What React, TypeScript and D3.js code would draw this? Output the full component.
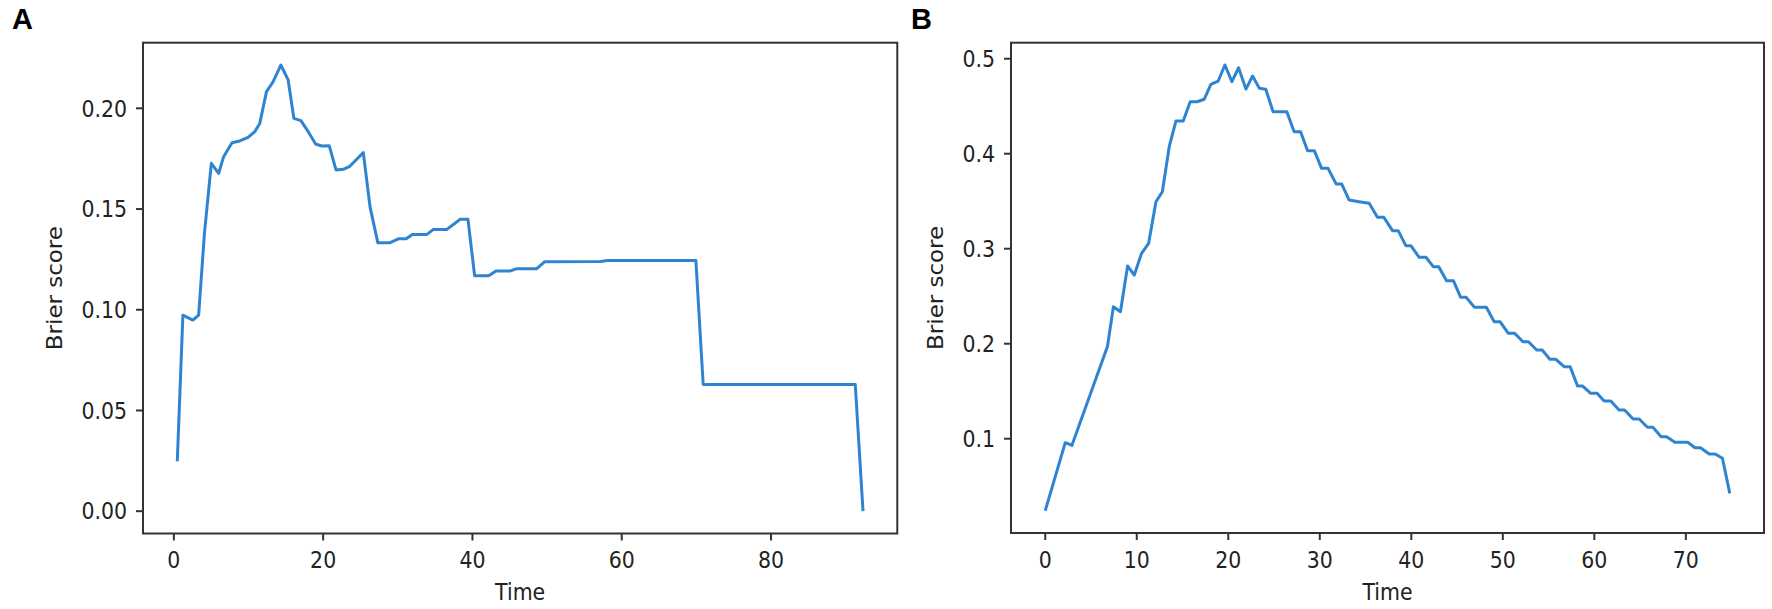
import React from "react";
import * as d3 from "d3";

// Panel A: time vs Brier score
const timeA = [0.46, 1.21, 2.55, 3.32, 4.1, 5.02, 6.0, 6.67, 7.79, 8.82, 9.94, 10.84, 11.51, 12.41, 13.3, 14.33, 15.31, 16.08, 17.02, 18.0, 18.99, 19.8, 20.82, 21.72, 22.7, 23.5, 24.5, 25.38, 26.28, 27.32, 28.97, 30.08, 31.12, 31.96, 33.9, 34.78, 36.58, 38.37, 39.4, 40.29, 42.17, 43.16, 45.0, 45.85, 48.58, 49.65, 57.17, 58.07, 69.93, 70.91, 91.28, 92.32];
const brierA = [0.0248, 0.0973, 0.0949, 0.0973, 0.138, 0.1727, 0.1677, 0.176, 0.1829, 0.1838, 0.1856, 0.1884, 0.1925, 0.2083, 0.2132, 0.2215, 0.2141, 0.195, 0.1939, 0.1884, 0.1823, 0.1813, 0.1814, 0.1694, 0.1697, 0.171, 0.1747, 0.178, 0.1511, 0.1333, 0.1333, 0.1352, 0.1352, 0.1374, 0.1374, 0.1399, 0.1399, 0.1449, 0.1449, 0.1169, 0.1169, 0.1192, 0.1192, 0.1203, 0.1203, 0.1238, 0.124, 0.1245, 0.1245, 0.0629, 0.0629, 0.0];

// Panel B
const timeB = [0, 2.19, 2.92, 6.8, 7.45, 8.22, 9.0, 9.73, 10.53, 11.3, 12.1, 12.8, 13.55, 14.28, 15.08, 15.84, 16.6, 17.37, 18.1, 18.9, 19.63, 20.4, 21.13, 21.93, 22.66, 23.4, 24.1, 24.9, 26.4, 27.2, 27.9, 28.67, 29.4, 30.2, 30.9, 31.8, 32.4, 33.2, 34.3, 35.4, 36.3, 37.0, 37.95, 38.57, 39.4, 39.95, 40.86, 41.6, 42.4, 43.0, 43.85, 44.6, 45.4, 46.0, 46.9, 48.2, 49.06, 49.7, 50.6, 51.3, 52.2, 52.8, 53.7, 54.3, 55.14, 55.8, 56.7, 57.36, 58.17, 58.7, 59.6, 60.3, 61.07, 61.8, 62.7, 63.3, 64.24, 64.9, 65.8, 66.4, 67.3, 67.9, 68.8, 70.2, 71.0, 71.6, 72.55, 73.2, 74.0, 74.8];
const brierB = [0.0242, 0.0958, 0.093, 0.197, 0.239, 0.2337, 0.2818, 0.2723, 0.2952, 0.3057, 0.3495, 0.36, 0.4074, 0.4344, 0.4344, 0.4547, 0.4547, 0.4573, 0.473, 0.4765, 0.4934, 0.4758, 0.4905, 0.468, 0.4818, 0.4688, 0.4678, 0.4442, 0.4442, 0.4232, 0.4232, 0.4032, 0.4032, 0.3846, 0.3846, 0.368, 0.368, 0.3513, 0.3495, 0.3478, 0.333, 0.333, 0.319, 0.319, 0.3032, 0.3032, 0.291, 0.291, 0.2811, 0.2811, 0.2663, 0.2663, 0.2488, 0.2488, 0.2383, 0.2383, 0.2232, 0.2232, 0.2109, 0.2109, 0.2021, 0.2021, 0.1934, 0.1934, 0.1836, 0.1836, 0.1758, 0.1758, 0.1555, 0.1555, 0.1478, 0.1478, 0.1397, 0.1397, 0.1302, 0.1302, 0.1207, 0.1207, 0.112, 0.112, 0.1021, 0.1021, 0.0962, 0.0962, 0.0905, 0.0905, 0.0839, 0.0839, 0.0794, 0.0425];

const xTicksA = [0, 20, 40, 60, 80];
const yTicksA = [0.0, 0.05, 0.1, 0.15, 0.2];
const xTicksB = [0, 10, 20, 30, 40, 50, 60, 70];
const yTicksB = [0.1, 0.2, 0.3, 0.4, 0.5];

const W = 1772;
const H = 609;
const LINE = "#2f84d2";
const FRAME = "#333333";
const FONT = "DejaVu Sans";
const FS = 20.5;
const SY = 1.12;

function padDomain(v: number[]): [number, number] {
  const lo = d3.min(v) as number;
  const hi = d3.max(v) as number;
  const m = (hi - lo) * 0.05;
  return [lo - m, hi + m];
}

type PanelProps = {
  label: string;
  labelX: number;
  left: number;
  right: number;
  top: number;
  bottom: number;
  xs: number[];
  ys: number[];
  xTicks: number[];
  yTicks: number[];
  yFmt: (v: number) => string;
  yLabelX: number;
};

function Txt(props: { x: number; y: number; anchor?: string; rotate?: number; children: React.ReactNode; fill?: string }) {
  const { x, y, anchor = "middle", rotate = 0, children, fill = "#222" } = props;
  return (
    <text
      transform={`translate(${x},${y}) rotate(${rotate}) scale(${rotate ? SY : 1},${rotate ? 1 : SY})`}
      textAnchor={anchor}
      fontFamily={FONT}
      fontSize={FS}
      fill={fill}
    >
      {children}
    </text>
  );
}

function Panel(p: PanelProps) {
  const x = d3.scaleLinear().domain(padDomain(p.xs)).range([p.left, p.right]);
  const y = d3.scaleLinear().domain(padDomain(p.ys)).range([p.bottom, p.top]);
  const pts = p.xs.map((t, i) => [t, p.ys[i]] as [number, number]);
  const line = d3
    .line<[number, number]>()
    .x((d) => x(d[0]))
    .y((d) => y(d[1]));
  const cx = (p.left + p.right) / 2;
  const cy = (p.top + p.bottom) / 2;
  return (
    <g>
      <text x={p.labelX} y={29.3} fontFamily="Liberation Sans" fontWeight="bold" fontSize={29} fill="#000">
        {p.label}
      </text>
      <path d={line(pts) || ""} fill="none" stroke={LINE} strokeWidth={3} strokeLinejoin="round" />
      <rect x={p.left} y={p.top} width={p.right - p.left} height={p.bottom - p.top} fill="none" stroke={FRAME} strokeWidth={2} />
      {p.xTicks.map((t) => (
        <g key={"x" + t}>
          <line x1={x(t)} x2={x(t)} y1={p.bottom} y2={p.bottom + 7} stroke={FRAME} strokeWidth={2} />
          <Txt x={x(t)} y={p.bottom + 34.5}>{String(t)}</Txt>
        </g>
      ))}
      {p.yTicks.map((t) => (
        <g key={"y" + t}>
          <line x1={p.left - 7} x2={p.left} y1={y(t)} y2={y(t)} stroke={FRAME} strokeWidth={2} />
          <Txt x={p.left - 16} y={y(t) + 8.3} anchor="end">{p.yFmt(t)}</Txt>
        </g>
      ))}
      <Txt x={cx} y={p.bottom + 66.5}>Time</Txt>
      <Txt x={p.yLabelX} y={cy} rotate={-90}>Brier score</Txt>
    </g>
  );
}

export default function App() {
  return (
    <svg width={W} height={H} style={{ position: "absolute", left: 0, top: 0, background: "#fff" }}>
      <rect width={W} height={H} fill="#fff" />
      <Panel
        label="A"
        labelX={12}
        left={143}
        right={897.3}
        top={42.7}
        bottom={533.5}
        xs={timeA}
        ys={brierA}
        xTicks={xTicksA}
        yTicks={yTicksA}
        yFmt={d3.format(".2f")}
        yLabelX={61.5}
      />
      <Panel
        label="B"
        labelX={911}
        left={1011}
        right={1764}
        top={42.7}
        bottom={533}
        xs={timeB}
        ys={brierB}
        xTicks={xTicksB}
        yTicks={yTicksB}
        yFmt={d3.format(".1f")}
        yLabelX={942.5}
      />
    </svg>
  );
}
